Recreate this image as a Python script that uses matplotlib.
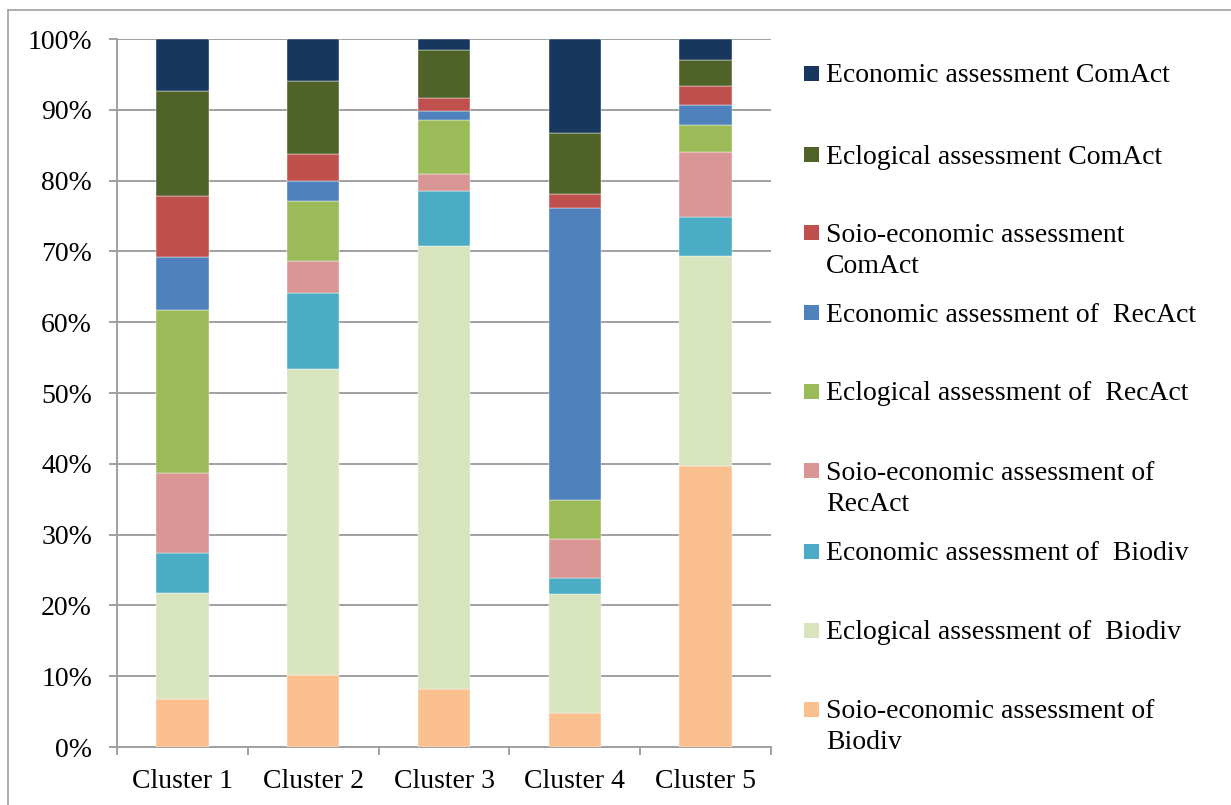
import matplotlib
matplotlib.use("Agg")
import matplotlib.pyplot as plt
from matplotlib.patches import Rectangle
from matplotlib.lines import Line2D
import numpy as np

# donnees (en %)
clusters = ["Cluster 1", "Cluster 2", "Cluster 3", "Cluster 4", "Cluster 5"]

series_names = [
    "Soio-economic assessment of\nBiodiv",
    "Eclogical assessment of  Biodiv",
    "Economic assessment of  Biodiv",
    "Soio-economic assessment of\nRecAct",
    "Eclogical assessment of  RecAct",
    "Economic assessment of  RecAct",
    "Soio-economic assessment\nComAct",
    "Eclogical assessment ComAct",
    "Economic assessment ComAct",
]

socio_biodiv = [6.8, 10.2, 8.2, 4.8, 39.7]
ecol_biodiv = [14.95, 43.2, 62.6, 16.85, 29.7]
econ_biodiv = [5.65, 10.7, 7.8, 2.15, 5.4]
socio_recact = [11.3, 4.5, 2.4, 5.6, 9.3]
ecol_recact = [23.0, 8.5, 7.6, 5.5, 3.8]
econ_recact = [7.5, 2.8, 1.2, 41.3, 2.8]
socio_comact = [8.6, 3.85, 1.9, 1.9, 2.6]
ecol_comact = [14.86, 10.35, 6.8, 8.6, 3.7]
econ_comact = [7.34, 5.9, 1.5, 13.3, 3.0]

colors = ["#FAC090", "#D7E4BD", "#4BACC6", "#D99694", "#9BBB59",
          "#4F81BD", "#C0504D", "#4F6228", "#17375E"]

plt.rcParams['font.family'] = ['Liberation Serif', 'DejaVu Serif']
FS = 20

data = np.array([socio_biodiv, ecol_biodiv, econ_biodiv, socio_recact, ecol_recact,
                 econ_recact, socio_comact, ecol_comact, econ_comact], dtype=float)
data = data / data.sum(axis=0) * 100

fig = plt.figure(figsize=(12.31, 8.05), dpi=100)
ax = fig.add_axes([117/1231, 58/805, 654/1231, 708/805])

x = np.arange(len(clusters))
bottom = np.zeros(len(clusters))
for i in range(len(series_names)):
    ax.bar(x, data[i], 0.4, bottom=bottom, color=colors[i], edgecolor='white',
           linewidth=0.3, zorder=3)
    bottom = bottom + data[i]

grid_col = "#A0A0A0"
ax.set_ylim(0, 100)
ax.set_xlim(-0.5, 4.5)
ax.set_yticks(np.arange(0, 101, 10))
ax.set_yticklabels([f"{v}%" for v in range(0, 101, 10)], fontsize=FS)
ax.yaxis.grid(True, color=grid_col, linewidth=1.4, zorder=0)
ax.tick_params(axis='y', length=6, width=1.4, color=grid_col, pad=12)

ax.set_xticks(np.arange(-0.5, 5, 1))
ax.set_xticklabels([])
ax.set_xticks(x, minor=True)
ax.set_xticklabels(clusters, minor=True, fontsize=FS)
ax.tick_params(axis='x', which='major', length=6, width=1.4, color=grid_col, direction='out')
ax.tick_params(axis='x', which='minor', length=0, pad=16)

for s in ['top', 'right']:
    ax.spines[s].set_visible(False)
for s in ['left', 'bottom']:
    ax.spines[s].set_color(grid_col)
    ax.spines[s].set_linewidth(1.4)

# legende a la main (marqueur aligne sur la premiere ligne)
W, H = 1231, 805
leg_y = [74, 155, 233, 313, 392, 471, 551, 630, 709]
for k, j in enumerate(range(len(series_names) - 1, -1, -1)):
    yc = leg_y[k]
    fig.patches.append(Rectangle((804/W, 1 - (yc + 7.5)/H), 15/W, 15/H,
                                 transform=fig.transFigure,
                                 facecolor=colors[j], edgecolor='none'))
    for n, line in enumerate(series_names[j].split("\n")):
        fig.text(826/W, 1 - (yc + 8.5 + 31.5*n)/H, line, fontsize=FS,
                 va='baseline', ha='left')

# cadre
fig.add_artist(Line2D([8/W, 1], [1 - 10/H, 1 - 10/H], color=grid_col, linewidth=1.2))
fig.add_artist(Line2D([8/W, 8/W], [0, 1 - 10/H], color=grid_col, linewidth=1.2))

fig.savefig("out.png", dpi=100)
